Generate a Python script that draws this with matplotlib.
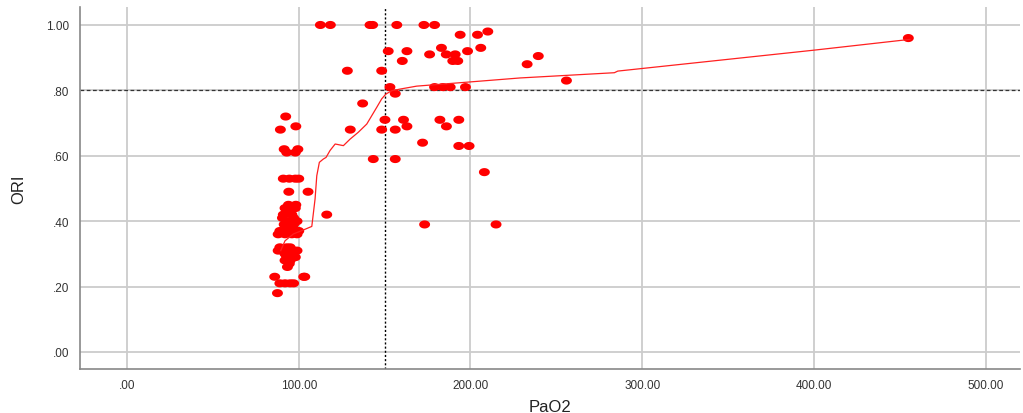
import matplotlib
matplotlib.use("Agg")
import matplotlib.pyplot as plt
import numpy as np
from matplotlib.path import Path

plt.rcParams['font.family'] = ['Liberation Sans', 'DejaVu Sans']

# scatter values: PaO2 vs ORI
pao2 = [
    112.6, 118.4, 141.5, 143.0, 157.1, 172.9, 179.1,
    194.0, 204.1, 210.1,
    152.1, 163.0, 183.1, 176.2, 185.9, 191.1, 198.3, 206.0,
    160.3, 189.7, 192.6, 233.0, 239.5,
    128.3, 148.3,
    153.1, 156.2, 179.1, 183.9, 188.2, 197.1, 255.9, 455.0,
    137.2,
    150.2, 161.0, 182.2, 193.2,
    130.0, 148.3, 156.2, 163.0, 186.0,
    172.1, 193.2, 199.2,
    143.4, 156.2, 208.1,
    173.3, 214.9,
    105.4, 116.3, 102.9,
    # low PaO2 cluster
    92.4, 89.3, 98.3,
    91.5, 93.0, 98.0, 99.5,
    91.0, 94.5, 98.0, 100.0,
    94.2,
    94.0, 98.3,
    92.0, 98.0,
    91.0, 93.5, 96.0,
    90.5, 93.0, 97.0, 99.0,
    91.5, 94.0, 97.0,
    89.0, 92.0, 95.0, 98.0, 100.0,
    88.0, 92.0, 96.0, 99.0,
    89.0, 91.0, 93.0, 95.0, 97.0, 99.0,
    88.0, 92.0, 95.0,
    93.0, 98.0,
    92.0, 95.0,
    93.4, 94.5,
    86.0, 103.5,
    89.0, 92.0, 95.0, 97.0,
    87.6,
]
ori = [
    1.00, 1.00, 1.00, 1.00, 1.00, 1.00, 1.00,
    0.97, 0.97, 0.98,
    0.92, 0.92, 0.93, 0.91, 0.91, 0.91, 0.92, 0.93,
    0.89, 0.89, 0.89, 0.88, 0.905,
    0.86, 0.86,
    0.81, 0.79, 0.81, 0.81, 0.81, 0.81, 0.83, 0.96,
    0.76,
    0.71, 0.71, 0.71, 0.71,
    0.68, 0.68, 0.68, 0.69, 0.69,
    0.64, 0.63, 0.63,
    0.59, 0.59, 0.55,
    0.39, 0.39,
    0.49, 0.42, 0.23,
    0.72, 0.68, 0.69,
    0.62, 0.61, 0.61, 0.62,
    0.53, 0.53, 0.53, 0.53,
    0.49,
    0.45, 0.45,
    0.44, 0.44,
    0.42, 0.43, 0.42,
    0.41, 0.40, 0.41, 0.40,
    0.39, 0.38, 0.39,
    0.37, 0.37, 0.37, 0.37, 0.37,
    0.36, 0.36, 0.36, 0.36,
    0.32, 0.31, 0.32, 0.32, 0.31, 0.31,
    0.31, 0.30, 0.30,
    0.29, 0.29,
    0.28, 0.28,
    0.26, 0.27,
    0.23, 0.23,
    0.21, 0.21, 0.21, 0.21,
    0.18,
]

# fit line (traced)
fit_x = [89.5, 92.0, 96.9, 101.7, 107.6, 109.5, 110.5, 112.0, 114.3, 115.9,
         118.2, 121.2, 126.0, 129.9, 134.7, 139.6, 145.4, 148.3, 150.8, 154.2,
         159.0, 168.7, 178.4, 197.8, 228.9, 283.8, 285.8, 400.1, 456.0]
fit_y = [0.310, 0.340, 0.361, 0.371, 0.384, 0.468, 0.539, 0.580, 0.590, 0.595,
         0.616, 0.636, 0.631, 0.651, 0.672, 0.697, 0.748, 0.774, 0.789, 0.799,
         0.804, 0.813, 0.817, 0.825, 0.838, 0.854, 0.859, 0.923, 0.956]

ref_x = 150
ref_y = 0.80

x_ticks = [0, 100, 200, 300, 400, 500]
x_labels = ['.00', '100.00', '200.00', '300.00', '400.00', '500.00']
y_ticks = [0, 0.2, 0.4, 0.6, 0.8, 1.0]
y_labels = ['.00', '.20', '.40', '.60', '.80', '1.00']

# flat ellipse marker like the SPSS dots
t = np.linspace(0, 2 * np.pi, 40)
ellipse = Path(np.column_stack([1.35 * np.cos(t), np.sin(t)]), closed=True)

fig = plt.figure(figsize=(10.23, 4.14), dpi=100)
ax = fig.add_axes([0.0782, 0.1063, 0.9188, 0.8744])

ax.set_xlim(-27.4, 520)
ax.set_ylim(-0.052, 1.055)

ax.set_xticks(x_ticks)
ax.set_xticklabels(x_labels)
ax.set_yticks(y_ticks)
ax.set_yticklabels(y_labels)
ax.tick_params(length=0, labelsize=8.5, colors='#333333')
ax.tick_params(axis='x', pad=7)
ax.tick_params(axis='y', pad=8)
ax.grid(True, color='#cccccc', linewidth=1.3)
ax.set_axisbelow(True)

for s in ['top', 'right']:
    ax.spines[s].set_visible(False)
for s in ['left', 'bottom']:
    ax.spines[s].set_color('#888888')
    ax.spines[s].set_linewidth(1.2)

ax.axhline(ref_y, color='#333333', linewidth=0.9, linestyle=(0, (3, 2)), zorder=2)
ax.axvline(ref_x, color='black', linewidth=1.0, linestyle=(0, (1.5, 1.5)), zorder=2)

ax.scatter(pao2, ori, s=62, marker=ellipse, color='#ff0000', edgecolors='none', zorder=3)
ax.plot(fit_x, fit_y, color='#ff2020', linewidth=0.9, zorder=4)

ax.set_xlabel('PaO2', fontsize=12, color='#222222', labelpad=6)
ax.set_ylabel('ORI', fontsize=12, color='#222222', labelpad=14)

fig.savefig('out.png', dpi=100)
